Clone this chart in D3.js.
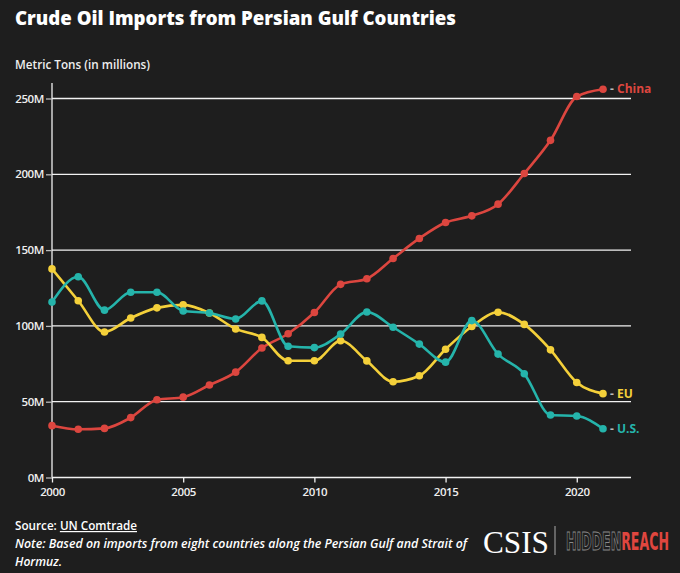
<!DOCTYPE html>
<html>
<head>
<meta charset="utf-8">
<script src="https://cdn.jsdelivr.net/npm/d3@7/dist/d3.min.js"></script>
<style>
  html, body { margin: 0; padding: 0; background: #1e1e1e; }
  svg { display: block; }
</style>
</head>
<body>
<svg id="chart" width="680" height="573"></svg>
<script>
const years = [2000,2001,2002,2003,2004,2005,2006,2007,2008,2009,2010,2011,2012,2013,2014,2015,2016,2017,2018,2019,2020,2021];
const china = [34.2,31.8,32.4,39.5,51.3,53,61,69.5,85.4,94.8,108.8,127.4,131.1,144.5,157.7,168.2,172.6,180.3,200.5,222.4,251.3,256.1];
const eu    = [137.6,116.6,96,105.2,111.9,113.9,108.5,98,92.4,77,77,90.2,76.9,63.2,67.1,84.6,99.6,109,101,84.2,62.7,55.3];
const us    = [115.7,132.4,110.4,122.2,122.2,109.8,108.5,104.6,116.5,86.6,85.7,94.6,109.2,99.1,88,76.1,103.5,81.4,68.4,41.2,40.6,32.2];
const yTicks = [0,50,100,150,200,250];
const xTicks = [2000,2005,2010,2015,2020];

const series = [
  {name:"China", values:china, color:"#dc463f"},
  {name:"EU",    values:eu,    color:"#f4d03a"},
  {name:"U.S.",  values:us,    color:"#25b4ab"}
];

const svg = d3.select("#chart");
const W = 680, H = 573;
svg.append("rect").attr("width",W).attr("height",H).attr("fill","#1e1e1e");

const x = d3.scaleLinear().domain([2000,2021]).range([52,603]);
const y = d3.scaleLinear().domain([0,250]).range([477.5,98.5]);
const xEnd = 631;
const ff = "'Open Sans', 'Noto Sans', sans-serif";

// Title
svg.append("text").attr("x",15).attr("y",25)
  .attr("font-family",ff).attr("font-weight","800")
  .attr("font-size",20).attr("fill","#ffffff")
  .attr("textLength",441).attr("lengthAdjust","spacingAndGlyphs")
  .text("Crude Oil Imports from Persian Gulf Countries");

svg.append("text").attr("x",15).attr("y",69)
  .attr("font-family",ff).attr("font-weight","600")
  .attr("font-size",12.5).attr("fill","#eeeeee")
  .attr("textLength",135).attr("lengthAdjust","spacingAndGlyphs")
  .text("Metric Tons (in millions)");

// Gridlines
const g = svg.append("g");
g.selectAll("line.grid").data(yTicks.filter(d=>d>0)).join("line")
  .attr("class","grid")
  .attr("x1",52).attr("x2",xEnd)
  .attr("y1",d=>y(d)).attr("y2",d=>y(d))
  .attr("stroke","#f2f2f2").attr("stroke-width",1.3);

// Y axis
const yAxis = svg.append("g").attr("transform","translate(52,0)")
  .call(d3.axisLeft(y).tickValues(yTicks).tickSize(6).tickFormat(d=>d+"M"));
yAxis.select(".domain").attr("d",`M0,83V${y(0)}`).attr("stroke","#f2f2f2").attr("stroke-width",1.3);
yAxis.selectAll(".tick line").attr("stroke","#bbbbbb").attr("stroke-width",1.3);
yAxis.selectAll(".tick text").attr("fill","#eeeeee").attr("font-size",11.5)
  .attr("font-family",ff).attr("font-weight","600").attr("x",-8)
  .attr("letter-spacing",-0.4);

// X axis
const xAxis = svg.append("g").attr("transform",`translate(0,${y(0)})`)
  .call(d3.axisBottom(x).tickValues(xTicks).tickSize(5).tickFormat(d3.format("d")));
xAxis.select(".domain").attr("d",`M52,0H${xEnd}`).attr("stroke","#f2f2f2").attr("stroke-width",1.3);
xAxis.selectAll(".tick line").attr("stroke","#f2f2f2").attr("stroke-width",1.3);
xAxis.selectAll(".tick text").attr("fill","#eeeeee").attr("font-size",11.5)
  .attr("font-family",ff).attr("font-weight","600").attr("dy","0.9em")
  .attr("letter-spacing",-0.4);

// Lines
const line = d3.line().x((d,i)=>x(years[i])).y(d=>y(d)).curve(d3.curveMonotoneX);
const lines = svg.append("g");
series.forEach(s=>{
  lines.append("path").datum(s.values)
    .attr("fill","none").attr("stroke",s.color).attr("stroke-width",2.6)
    .attr("d",line);
});
series.forEach(s=>{
  lines.append("g").selectAll("circle").data(s.values).join("circle")
    .attr("cx",(d,i)=>x(years[i])).attr("cy",d=>y(d)).attr("r",3.8)
    .attr("fill",s.color);
});

// End labels
series.forEach(s=>{
  const v = s.values[s.values.length-1];
  const t = svg.append("text").attr("x",x(2021)+7).attr("y",y(v)).attr("dy","0.35em")
    .attr("font-family",ff).attr("font-weight","bold")
    .attr("font-size",12);
  t.append("tspan").attr("fill","#bbbbbb").text("- ");
  t.append("tspan").attr("fill",s.color).text(s.name);
});

// Footer
const src = svg.append("text").attr("x",15).attr("y",530).attr("font-family",ff)
  .attr("font-size",12).attr("fill","#ffffff").attr("font-weight","600")
  .attr("textLength",122).attr("lengthAdjust","spacingAndGlyphs");
src.append("tspan").text("Source: ");
src.append("tspan").attr("text-decoration","underline").text("UN Comtrade");

svg.append("text").attr("x",15).attr("y",548).attr("font-family",ff)
  .attr("font-size",12).attr("fill","#ffffff").attr("font-style","italic").attr("font-weight","600")
  .attr("textLength",452).attr("lengthAdjust","spacingAndGlyphs")
  .text("Note: Based on imports from eight countries along the Persian Gulf and Strait of");
svg.append("text").attr("x",15).attr("y",566).attr("font-family",ff)
  .attr("font-size",12).attr("fill","#ffffff").attr("font-style","italic").attr("font-weight","600")
  .attr("textLength",47).attr("lengthAdjust","spacingAndGlyphs")
  .text("Hormuz.");

// Logo
svg.append("text").attr("x",483).attr("y",553).attr("font-family","'Liberation Serif', 'DejaVu Serif', serif")
  .attr("font-size",31).attr("fill","#ffffff")
  .attr("textLength",66).attr("lengthAdjust","spacingAndGlyphs").text("CSIS");
svg.append("line").attr("x1",555).attr("x2",555).attr("y1",526).attr("y2",555)
  .attr("stroke","#aaaaaa").attr("stroke-width",1);
const logo = svg.append("text")
  .attr("font-family","'Liberation Sans Narrow', 'DejaVu Sans Condensed', sans-serif")
  .attr("font-size",22).attr("font-weight","bold").attr("x",0).attr("y",0);
logo.append("tspan").attr("fill","none").attr("stroke","#8a8a8a").attr("stroke-width",0.8).text("HIDDEN");
logo.append("tspan").attr("fill","#e0463f").text("REACH");
const natural = logo.node().getComputedTextLength();
const sx = 103 / natural;
logo.attr("transform",`translate(566,550) scale(${sx},1.1)`);
</script>
</body>
</html>
